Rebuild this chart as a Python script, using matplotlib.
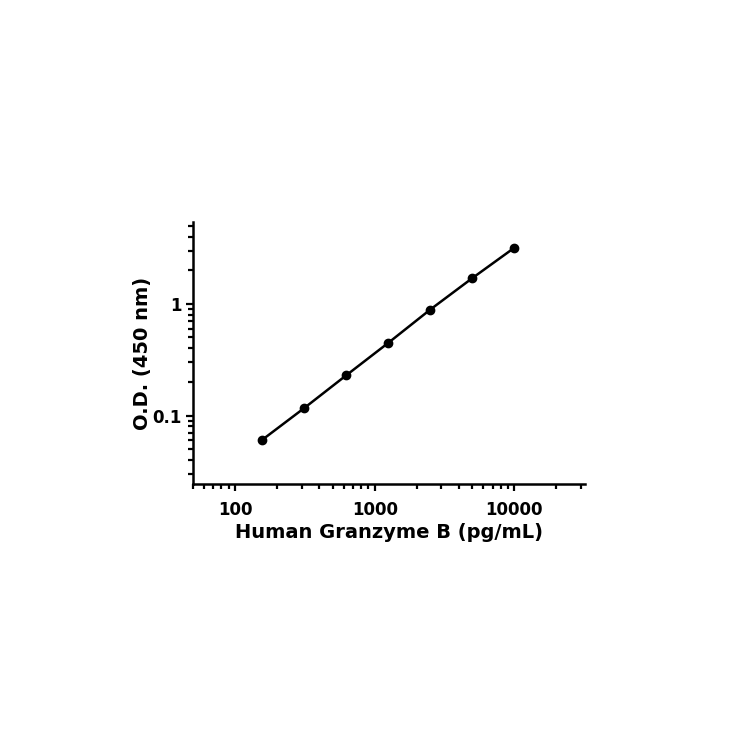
import matplotlib.pyplot as plt
from matplotlib.ticker import LogLocator, FixedLocator, FixedFormatter, NullFormatter

# standard curve values
conc = [156.25, 312.5, 625, 1250, 2500, 5000, 10000]
od = [0.0605, 0.1165, 0.229, 0.447, 0.889, 1.70, 3.18]

x_ticks = [100, 1000, 10000]
x_labels = ["100", "1000", "10000"]
y_ticks = [0.1, 1]
y_labels = ["0.1", "1"]


def plot_curve():
    plt.rcParams['font.family'] = ['DejaVu Sans']
    fig = plt.figure(figsize=(7.5, 7.5), dpi=100)
    ax = fig.add_axes([0.2573, 0.3547, 0.5227, 0.3493])

    ax.plot(conc, od, color='black', lw=1.8, marker='o', ms=6, zorder=3)

    ax.set_xscale('log')
    ax.set_yscale('log')
    ax.set_xlim(50, 32000)
    ax.set_ylim(0.0244, 5.4)

    ax.xaxis.set_major_locator(FixedLocator(x_ticks))
    ax.xaxis.set_major_formatter(FixedFormatter(x_labels))
    ax.yaxis.set_major_locator(FixedLocator(y_ticks))
    ax.yaxis.set_major_formatter(FixedFormatter(y_labels))
    ax.xaxis.set_minor_locator(LogLocator(base=10, subs=range(2, 10)))
    ax.yaxis.set_minor_locator(LogLocator(base=10, subs=range(2, 10)))
    ax.xaxis.set_minor_formatter(NullFormatter())
    ax.yaxis.set_minor_formatter(NullFormatter())

    for s in ['top', 'right']:
        ax.spines[s].set_visible(False)
    for s in ['left', 'bottom']:
        ax.spines[s].set_linewidth(1.8)

    ax.tick_params(which='major', direction='out', length=5, width=1.6,
                   labelsize=12)
    ax.tick_params(axis='x', which='major', pad=7)
    ax.tick_params(axis='y', which='major', pad=3)
    ax.tick_params(which='minor', direction='out', length=3.5, width=1.6)
    for lab in ax.get_xticklabels() + ax.get_yticklabels():
        lab.set_fontweight('bold')

    ax.set_xlabel("Human Granzyme B (pg/mL)", fontsize=14, fontweight='bold',
                  labelpad=3)
    ax.set_ylabel("O.D. (450 nm)", fontsize=14, fontweight='bold', labelpad=0)

    fig.savefig("out.png", dpi=100)


if __name__ == "__main__":
    plot_curve()
